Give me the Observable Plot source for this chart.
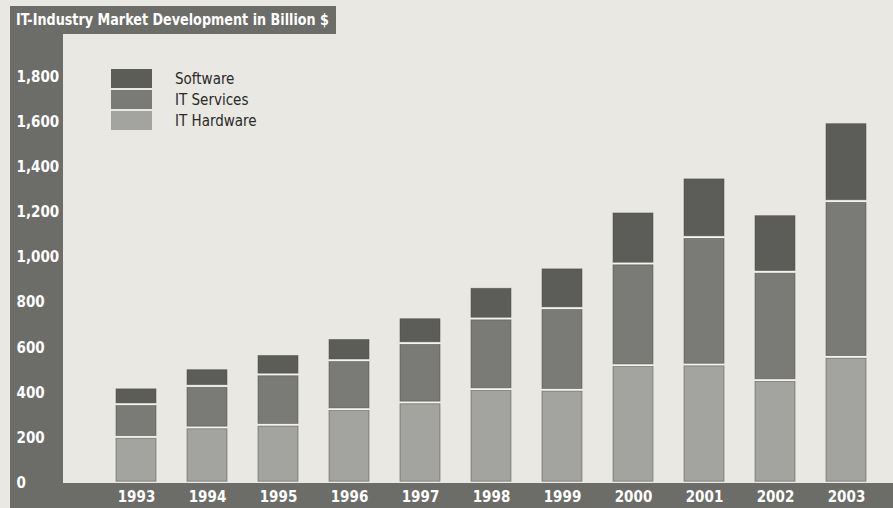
<!DOCTYPE html>
<html>
<head>
<meta charset="utf-8">
<script src="https://cdn.jsdelivr.net/npm/d3@7"></script>
<script src="https://cdn.jsdelivr.net/npm/@observablehq/plot@0.6"></script>
<style>
  html, body { margin: 0; padding: 0; background: #e9e8e3; }
  #wrap { position: relative; width: 893px; height: 508px; overflow: hidden; background: #e9e8e3;
          font-family: "DejaVu Sans Condensed", "DejaVu Sans", sans-serif; font-stretch: condensed; }
  .dark { position: absolute; background: #6c6c68; }
  #title { position: absolute; left: 10px; top: 6px; width: 326px; height: 28px; background: #6c6c68;
           color: #fff; font-weight: bold; font-size: 16.5px; line-height: 28px; padding-left: 6px; box-sizing: border-box;
           white-space: nowrap; font-stretch: condensed; overflow: hidden; }
  #title span { display: inline-block; transform-origin: 0 50%; }
  #chart { position: absolute; left: 0; top: 0; }
  #legend { position: absolute; left: 111px; top: 68px; }
  .row { display: flex; align-items: center; height: 21px; }
  .sw { width: 41px; height: 19px; margin-right: 23px; }
  .lab { font-size: 15px; color: #2a2a28; font-stretch: condensed; }
  svg text { font-stretch: condensed; }
  svg g[aria-label="y-axis tick label"], svg g[aria-label="x-axis tick label"] {
    fill: #ffffff; font-weight: bold; font-size: 15px; font-stretch: condensed;
  }
</style>
</head>
<body>
<div id="wrap">
  <div class="dark" style="left:10px; top:34px; width:53px; height:474px;"></div>
  <div class="dark" style="left:10px; top:483px; width:883px; height:25px;"></div>
  <div id="title"><span></span></div>
  <div id="chart"></div>
  <div id="legend"></div>
</div>
<script>
const titleText = "IT-Industry Market Development in Billion $";
const years = ["1993","1994","1995","1996","1997","1998","1999","2000","2001","2002","2003"];
const series = ["IT Hardware", "IT Services", "Software"];
const colors = ["#a3a49f", "#7a7b76", "#5c5d58"];
const hardware = [202, 244, 256, 325, 355, 414, 411, 520, 523, 454, 557];
const services = [145, 184, 223, 217, 263, 313, 362, 451, 565, 480, 691];
const software = [74, 78, 90, 98, 114, 140, 180, 230, 264, 255, 349];
const yTicks = [0, 200, 400, 600, 800, 1000, 1200, 1400, 1600, 1800];

const tspan = document.querySelector("#title span");
tspan.textContent = titleText;
const tw = tspan.getBoundingClientRect().width;
if (tw > 0) tspan.style.transform = `scaleX(${Math.min(1, 313 / tw)})`;

const valuesBySeries = [hardware, services, software];
const rows = [];
years.forEach((yr, i) => {
  series.forEach((s, k) => rows.push({year: yr, series: s, value: valuesBySeries[k][i]}));
});
const totals = years.map((yr, i) => ({year: yr, total: hardware[i] + services[i] + software[i]}));

const chart = Plot.plot({
  width: 893,
  height: 508,
  marginLeft: 63,
  marginRight: 0,
  marginTop: 36,
  marginBottom: 25,
  style: {background: "transparent", fontFamily: "'DejaVu Sans Condensed', 'DejaVu Sans', sans-serif"},
  x: {domain: years, range: [111, 871.5], paddingInner: 0.43, paddingOuter: 0, label: null},
  y: {domain: [0, 1980], range: [482.5, 36], label: null},
  color: {domain: series, range: colors},
  marks: [
    Plot.barY(totals, {x: "year", y: "total", fill: "#f4f3ee", insetTop: 1.3, insetBottom: 1.3}),
    Plot.barY(rows, {x: "year", y: "value", fill: "series", insetTop: 1.3, insetBottom: 1.3,
                     stroke: "#4a4a47", strokeWidth: 0.8, strokeOpacity: 0.6}),
    Plot.axisY({ticks: yTicks, tickSize: 0, tickPadding: 0, textAnchor: "start", dx: -47,
                tickFormat: d3.format(","), label: null}),
    Plot.axisX({tickSize: 0, tickPadding: 8, label: null})
  ]
});
document.getElementById("chart").appendChild(chart);

const legend = document.getElementById("legend");
[...series].reverse().forEach((s) => {
  const row = document.createElement("div");
  row.className = "row";
  const sw = document.createElement("div");
  sw.className = "sw";
  sw.style.background = colors[series.indexOf(s)];
  const lab = document.createElement("span");
  lab.className = "lab";
  lab.textContent = s;
  row.appendChild(sw);
  row.appendChild(lab);
  legend.appendChild(row);
});
</script>
</body>
</html>
